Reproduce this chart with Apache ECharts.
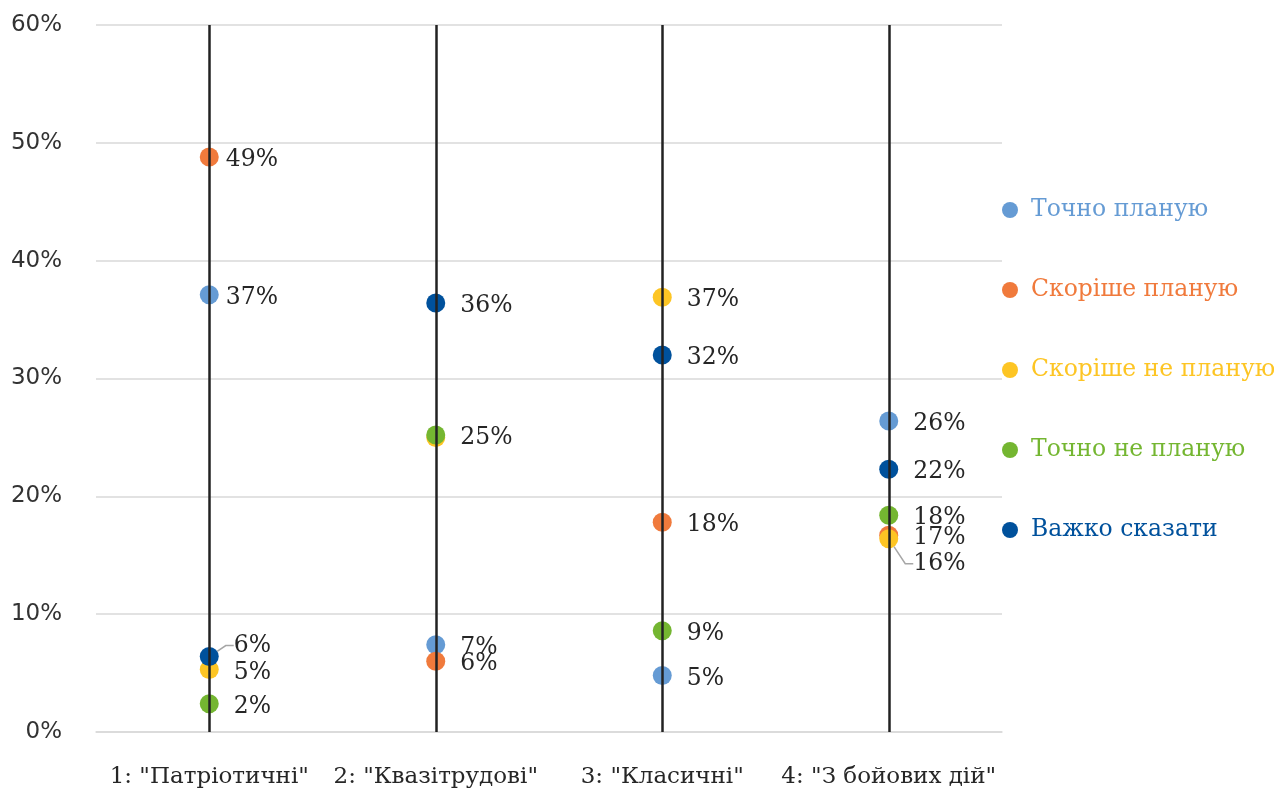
<!DOCTYPE html>
<html>
<head>
<meta charset="utf-8">
<script src="https://cdn.jsdelivr.net/npm/echarts@6/dist/echarts.min.js"></script>
<style>html,body{margin:0;padding:0;background:#fff}#c{width:1274px;height:791px}</style>
</head>
<body>
<div id="c"></div>
<script>
const categories = ['1: "Патріотичні"', '2: "Квазітрудові"', '3: "Класичні"', '4: "З бойових дій"'];
const seriesNames = ['Точно планую', 'Скоріше планую', 'Скоріше не планую', 'Точно не планую', 'Важко сказати'];
const tochnoPlanuyu = [37.1, 7.4, 4.8, 26.4];
const skorishePlanuyu = [48.8, 6.0, 17.8, 16.7];
const skorisheNePlanuyu = [5.3, 25.0, 36.9, 16.4];
const tochnoNePlanuyu = [2.4, 25.2, 8.6, 18.4];
const vazhkoSkazaty = [6.4, 36.4, 32.0, 22.3];
const yTicks = [0, 10, 20, 30, 40, 50, 60];

const values = [tochnoPlanuyu, skorishePlanuyu, skorisheNePlanuyu, tochnoNePlanuyu, vazhkoSkazaty];
const colors = ['#659BD4', '#F07A3C', '#FDC524', '#74B631', '#00519C'];

// label adjustments (style only)
const labelShift = {
  '0,0': {dx: -8, dy: 3}, '1,0': {dx: -8, dy: 3},
  '4,0': {dy: -11},
  '2,3': {dy: 25}
};
const leaderLines = {'4,0': true, '2,3': true};
const hiddenLabels = {'2,1': true};

const chart = echarts.init(document.getElementById('c'));
const serifFont = '"DejaVu Serif", serif';

const series = values.map((arr, s) => ({
  name: seriesNames[s],
  type: 'scatter',
  z: 3,
  symbol: 'circle',
  symbolSize: 19,
  itemStyle: {color: colors[s], opacity: 1},
  label: {
    show: true, position: 'right', distance: 15,
    fontFamily: serifFont, fontSize: 23.5, color: '#262626',
    formatter: p => Math.round(p.value) + '%'
  },
  labelLine: {show: false},
  labelLayout: p => labelShift[p.seriesIndex + ',' + p.dataIndex] || {dy: 3},
  emphasis: {disabled: true},
  data: arr.map((v, i) => {
    const k = s + ',' + i;
    const item = {value: v};
    if (leaderLines[k]) item.labelLine = {show: true, length2: 8, lineStyle: {color: '#a6a6a6', width: 1.5}};
    if (hiddenLabels[k]) item.label = {show: false};
    return item;
  })
}));

series.push({
  name: 'lines', type: 'scatter', z: 1, data: [],
  markLine: {
    silent: true, symbol: ['none', 'none'],
    label: {show: false},
    lineStyle: {color: '#222', width: 2.5, type: 'solid'},
    data: categories.map(c => ({xAxis: c}))
  }
});

chart.setOption({
  animation: false,
  backgroundColor: '#fff',
  grid: {left: 96, right: 272, top: 25, bottom: 59},
  xAxis: {
    type: 'category', data: categories,
    axisLine: {show: true, lineStyle: {color: '#d9d9d9', width: 1.5}},
    axisTick: {show: false},
    axisLabel: {fontFamily: serifFont, fontSize: 23, color: '#262626', margin: 34, interval: 0}
  },
  yAxis: {
    type: 'value', min: yTicks[0], max: yTicks[yTicks.length - 1], interval: 10,
    axisLine: {show: false}, axisTick: {show: false},
    splitLine: {lineStyle: {color: '#d9d9d9', width: 1.5}},
    axisLabel: {fontFamily: '"DejaVu Sans", sans-serif', fontSize: 23, color: '#333', margin: 34,
      formatter: v => v + '%'}
  },
  legend: {
    orient: 'vertical', left: 997, top: 193,
    itemWidth: 16, itemHeight: 16, itemGap: 56, icon: 'circle',
    textStyle: {fontFamily: serifFont, fontSize: 23.5, lineHeight: 24, padding: [0, 0, 0, 8]},
    data: seriesNames.map((n, i) => ({name: n, textStyle: {color: colors[i]}}))
  },
  series: series
});
</script>
</body>
</html>
